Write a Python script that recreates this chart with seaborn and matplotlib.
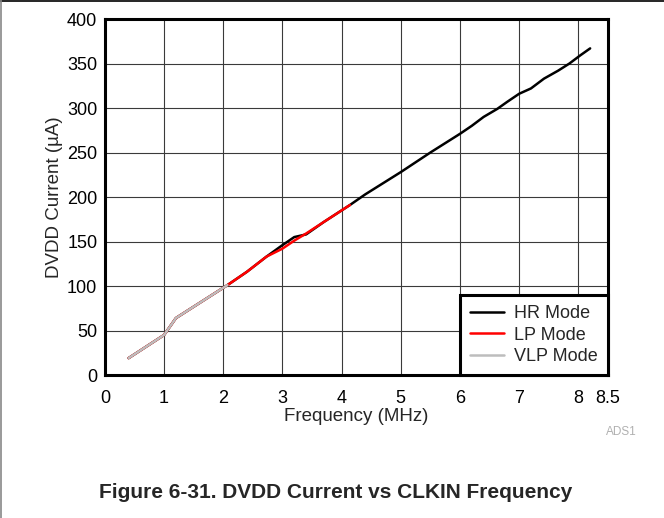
import numpy as np
import pandas as pd
import matplotlib
matplotlib.use("Agg")
import matplotlib.pyplot as plt
from matplotlib.lines import Line2D
import seaborn as sns

# values (MHz, uA)
hr_freq = [0.4, 1.0, 1.2, 2.07, 2.4, 2.73, 2.98, 3.2, 3.4, 3.7, 4.14, 4.4, 5.0,
           5.5, 6.0, 6.2, 6.4, 6.63, 6.8, 7.0, 7.2, 7.42, 7.66, 7.85, 8.03, 8.2]
hr_curr = [19, 45, 64, 101, 116, 133, 145, 155, 158, 172, 191, 203, 228,
           250, 271, 280, 290, 299, 307, 316, 322, 333, 342, 350, 359, 367]
lp_freq = [0.4, 1.0, 1.2, 2.07, 2.4, 2.73, 3.0, 3.2, 3.4, 3.7, 4.14]
lp_curr = [19, 45, 64, 101, 116, 133, 142, 151, 159, 172, 191]
vlp_freq = [0.4, 1.0, 1.2, 2.07]
vlp_curr = [19, 45, 64, 101]

modes = ["HR Mode", "LP Mode", "VLP Mode"]
colors = ["#000000", "#ff0000", "#bdbdbd"]
x_ticks = [0, 1, 2, 3, 4, 5, 6, 7, 8, 8.5]
x_tick_labels = ["0", "1", "2", "3", "4", "5", "6", "7", "8", "8.5"]
y_ticks = [0, 50, 100, 150, 200, 250, 300, 350, 400]


def main():
    df = pd.concat([
        pd.DataFrame({"freq": hr_freq, "curr": hr_curr, "mode": modes[0]}),
        pd.DataFrame({"freq": lp_freq, "curr": lp_curr, "mode": modes[1]}),
        pd.DataFrame({"freq": vlp_freq, "curr": vlp_curr, "mode": modes[2]}),
    ])

    sns.set_theme(style="white")
    plt.rcParams["font.family"] = ["Liberation Sans", "DejaVu Sans"]

    fig = plt.figure(figsize=(6.64, 5.18), dpi=100)
    ax = fig.add_axes([0.158, 0.276, 0.7575, 0.6873])

    sns.lineplot(
        data=df, x="freq", y="curr", hue="mode", hue_order=modes,
        palette=dict(zip(modes, colors)), estimator=None, sort=False,
        linewidth=1.8, ax=ax
    )

    ax.set_xlim(0, 8.5)
    ax.set_ylim(0, 400)
    ax.set_xticks(x_ticks)
    ax.set_xticklabels(x_tick_labels)
    ax.set_yticks(y_ticks)
    ax.tick_params(axis="both", labelsize=13, length=0, colors="black")
    ax.tick_params(axis="x", pad=10.5)
    ax.tick_params(axis="y", pad=5.5)
    ax.grid(True, color="#3a3a3a", linewidth=0.8)
    ax.set_axisbelow(True)
    for s in ax.spines.values():
        s.set_visible(True)
        s.set_color("black")
        s.set_linewidth(2.2)

    ax.set_xlabel("Frequency (MHz)", fontsize=13.5, labelpad=1)
    ax.set_ylabel("DVDD Current (\u00b5A)", fontsize=13.5, labelpad=3)

    leg = ax.legend(loc="lower right", borderaxespad=0, fontsize=13,
                    fancybox=False, framealpha=1, edgecolor="black",
                    handlelength=1.9, handletextpad=0.55, labelspacing=0.25,
                    borderpad=0.55)
    leg.get_frame().set_linewidth(2.2)
    leg.set_title(None)

    fig.text(0.959, 0.160, "ADS1", color="#b0b0b0", fontsize=8.5,
             ha="right", va="baseline")
    fig.text(0.505, 0.038, "Figure 6-31. DVDD Current vs CLKIN Frequency",
             fontsize=15, fontweight="bold", ha="center", va="baseline")

    # page borders
    fig.add_artist(Line2D([0, 1], [0.999, 0.999], transform=fig.transFigure,
                          color="black", linewidth=1.2))
    fig.add_artist(Line2D([0.001, 0.001], [0, 1], transform=fig.transFigure,
                          color="#888888", linewidth=1.2))

    fig.savefig("out.png", dpi=100)


if __name__ == "__main__":
    main()
